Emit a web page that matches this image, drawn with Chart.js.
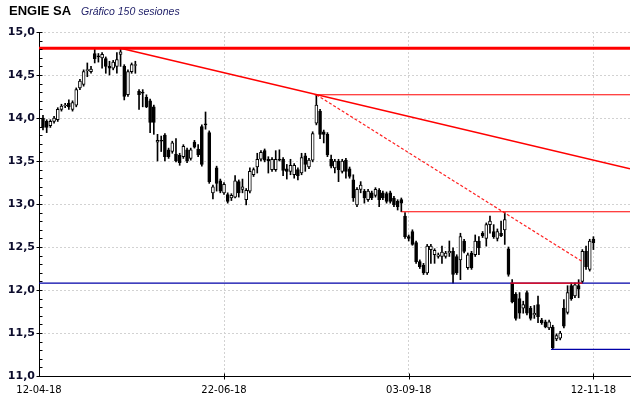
<!DOCTYPE html>
<html>
<head>
<meta charset="utf-8">
<script src="https://cdn.jsdelivr.net/npm/chart.js@4.4.0/dist/chart.umd.min.js"></script>
<style>
  html, body { margin: 0; padding: 0; background: #fff; }
</style>
</head>
<body>
<canvas id="grafico" width="640" height="398"></canvas>
<script>
// datos de las 150 sesiones (apertura, maximo, minimo, cierre)
const aperturas = [
  14.00, 13.96, 13.91, 13.96, 13.98, 14.10, 14.14, 14.17, 14.10, 14.15,
  14.35, 14.39, 14.55, 14.54, 14.75, 14.72, 14.70, 14.69, 14.60, 14.58,
  14.60, 14.74, 14.60, 14.27, 14.54, 14.61, 14.31, 14.30, 14.24, 14.20,
  14.13, 13.72, 13.74, 13.80, 13.63, 13.61, 13.58, 13.57, 13.55, 13.63,
  13.53, 13.72, 13.64, 13.90, 13.93, 13.83, 13.13, 13.42, 13.27, 13.13,
  13.11, 13.07, 13.08, 13.26, 13.17, 13.05, 13.15, 13.34, 13.43, 13.52,
  13.62, 13.52, 13.40, 13.40, 13.52, 13.52, 13.41, 13.38, 13.34, 13.40,
  13.36, 13.56, 13.43, 13.51, 13.94, 14.08, 13.84, 13.81, 13.52, 13.42,
  13.50, 13.38, 13.51, 13.41, 13.28, 12.99, 13.17, 13.15, 13.05, 13.13,
  13.10, 13.16, 13.13, 13.12, 13.13, 13.07, 13.03, 13.05, 12.86, 12.62,
  12.68, 12.55, 12.33, 12.29, 12.20, 12.47, 12.41, 12.39, 12.39, 12.39,
  12.43, 12.45, 12.39, 12.35, 12.57, 12.26, 12.43, 12.41, 12.57, 12.66,
  12.60, 12.76, 12.68, 12.60, 12.66, 12.70, 12.48, 12.08, 11.95, 11.90,
  11.79, 11.97, 11.79, 11.71, 11.83, 11.65, 11.63, 11.56, 11.57, 11.43,
  11.44, 11.79, 11.74, 12.05, 11.93, 12.05, 12.10, 12.45, 12.24, 12.59
];
const maximos = [
  14.03, 13.98, 13.98, 14.02, 14.12, 14.16, 14.17, 14.21, 14.20, 14.35,
  14.45, 14.56, 14.64, 14.60, 14.81, 14.75, 14.76, 14.71, 14.66, 14.67,
  14.76, 14.81, 14.62, 14.56, 14.64, 14.66, 14.33, 14.33, 14.27, 14.22,
  14.15, 13.81, 13.79, 13.82, 13.65, 13.73, 13.76, 13.59, 13.69, 13.65,
  13.65, 13.74, 13.69, 13.92, 14.07, 13.85, 13.22, 13.44, 13.29, 13.25,
  13.13, 13.12, 13.33, 13.28, 13.29, 13.18, 13.42, 13.42, 13.59, 13.62,
  13.64, 13.55, 13.54, 13.62, 13.63, 13.54, 13.46, 13.52, 13.47, 13.42,
  13.59, 13.59, 13.53, 13.84, 14.27, 14.10, 13.86, 13.83, 13.57, 13.52,
  13.52, 13.52, 13.53, 13.43, 13.34, 13.19, 13.26, 13.17, 13.17, 13.15,
  13.19, 13.18, 13.15, 13.14, 13.15, 13.09, 13.05, 13.07, 12.90, 12.64,
  12.70, 12.57, 12.35, 12.31, 12.53, 12.53, 12.48, 12.43, 12.51, 12.45,
  12.57, 12.49, 12.41, 12.66, 12.59, 12.43, 12.45, 12.64, 12.62, 12.68,
  12.78, 12.86, 12.76, 12.71, 12.80, 12.90, 12.50, 12.12, 11.97, 11.97,
  11.87, 11.99, 11.81, 11.82, 11.93, 11.67, 11.65, 11.65, 11.59, 11.49,
  11.52, 11.89, 12.05, 12.08, 12.08, 12.12, 12.47, 12.51, 12.59, 12.62
];
const minimos = [
  13.86, 13.83, 13.89, 13.94, 13.96, 14.08, 14.12, 14.10, 14.08, 14.13,
  14.33, 14.37, 14.48, 14.52, 14.64, 14.65, 14.58, 14.52, 14.50, 14.56,
  14.52, 14.60, 14.21, 14.25, 14.52, 14.52, 14.10, 14.13, 14.12, 13.83,
  13.81, 13.50, 13.61, 13.50, 13.53, 13.59, 13.49, 13.45, 13.53, 13.48,
  13.51, 13.65, 13.55, 13.44, 13.87, 13.24, 13.06, 13.15, 13.13, 13.11,
  13.01, 13.04, 13.07, 13.08, 13.13, 12.99, 13.13, 13.32, 13.36, 13.50,
  13.49, 13.36, 13.38, 13.38, 13.50, 13.33, 13.29, 13.34, 13.30, 13.28,
  13.34, 13.38, 13.41, 13.49, 13.92, 13.76, 13.71, 13.55, 13.42, 13.36,
  13.26, 13.36, 13.30, 13.30, 13.03, 12.97, 13.13, 13.01, 13.03, 13.05,
  13.08, 12.97, 13.05, 13.01, 13.01, 12.97, 12.93, 12.91, 12.60, 12.57,
  12.52, 12.31, 12.25, 12.18, 12.18, 12.31, 12.31, 12.37, 12.31, 12.37,
  12.39, 12.08, 12.18, 12.12, 12.43, 12.24, 12.24, 12.39, 12.41, 12.61,
  12.51, 12.66, 12.60, 12.57, 12.62, 12.53, 12.16, 11.85, 11.65, 11.67,
  11.73, 11.71, 11.65, 11.67, 11.62, 11.60, 11.56, 11.54, 11.31, 11.41,
  11.42, 11.56, 11.72, 11.88, 11.91, 11.91, 12.08, 12.24, 12.22, 12.47
];
const cierres = [
  13.89, 13.89, 13.96, 14.00, 14.10, 14.14, 14.15, 14.13, 14.18, 14.33,
  14.43, 14.54, 14.56, 14.57, 14.69, 14.71, 14.74, 14.60, 14.58, 14.65,
  14.68, 14.77, 14.25, 14.54, 14.62, 14.62, 14.27, 14.29, 14.13, 13.95,
  13.95, 13.74, 13.73, 13.55, 13.55, 13.71, 13.50, 13.48, 13.67, 13.50,
  13.63, 13.66, 13.57, 13.46, 13.92, 13.26, 13.20, 13.24, 13.15, 13.23,
  13.03, 13.10, 13.27, 13.13, 13.20, 13.16, 13.38, 13.40, 13.52, 13.60,
  13.51, 13.50, 13.52, 13.52, 13.51, 13.39, 13.38, 13.45, 13.45, 13.33,
  13.54, 13.46, 13.51, 13.82, 14.15, 13.81, 13.81, 13.57, 13.44, 13.50,
  13.40, 13.50, 13.38, 13.32, 13.07, 13.17, 13.22, 13.07, 13.15, 13.07,
  13.17, 13.05, 13.07, 13.03, 13.03, 12.99, 12.97, 13.01, 12.62, 12.60,
  12.53, 12.33, 12.27, 12.20, 12.51, 12.51, 12.46, 12.41, 12.44, 12.43,
  12.45, 12.18, 12.20, 12.62, 12.45, 12.41, 12.26, 12.57, 12.49, 12.63,
  12.76, 12.80, 12.62, 12.68, 12.63, 12.82, 12.18, 11.86, 11.67, 11.73,
  11.83, 11.73, 11.67, 11.73, 11.69, 11.62, 11.57, 11.63, 11.33, 11.47,
  11.50, 11.58, 11.97, 11.90, 12.06, 12.01, 12.45, 12.27, 12.57, 12.55
];

// fechas del eje x y la sesion donde va cada una
const etiquetasFecha = ['12-04-18', '22-06-18', '03-09-18', '12-11-18'];
const X_MIN = -1.08;
const X_MAX = 158.9;
const sesionesFecha = [X_MIN, 49, 99, 149];

// lineas dibujadas sobre el grafico: [sesion inicio, sesion fin, precio inicio, precio fin, grosor]
const lineasRojas = [
  [X_MIN, X_MAX, 14.81, 14.81, 3],    // maximo
  [21, X_MAX, 14.81, 13.41, 1.5],     // directriz bajista
  [73.5, X_MAX, 14.27, 14.27, 1],
  [97, X_MAX, 12.91, 12.91, 1.2],
  [126.5, 146, 12.08, 12.08, 1.2]
];
const lineasAzules = [
  [X_MIN, X_MAX, 12.08, 12.08],
  [137.5, X_MAX, 11.31, 11.31]
];
const lineaDiscontinua = [74, 146, 14.27, 12.33];

const sesiones = aperturas.map((v, i) => i);

// datasets de velas: mechas y cuerpos
const mechas = sesiones.map(i => ({ x: i, y: [minimos[i], maximos[i]] }));
const cuerpos = sesiones.map(i => ({ x: i, y: [aperturas[i], cierres[i]] }));

const datasets = [];

datasets.push({
  type: 'bar',
  data: mechas,
  backgroundColor: '#000',
  barThickness: 1,
  grouped: false,
  order: 3
});

datasets.push({
  type: 'bar',
  data: cuerpos,
  backgroundColor: cuerpos.map((d, i) => cierres[i] >= aperturas[i] ? '#fff' : '#000'),
  borderColor: '#000',
  borderWidth: 1,
  borderSkipped: false,
  barThickness: 3,
  minBarLength: 1,
  grouped: false,
  order: 2
});

// se crean las lineas a partir de las listas
lineasAzules.forEach(l => {
  datasets.push({
    type: 'line',
    data: [{ x: l[0], y: l[2] }, { x: l[1], y: l[3] }],
    borderColor: '#0000a8',
    borderWidth: 1.2,
    pointRadius: 0,
    order: 1
  });
});

lineasRojas.forEach(l => {
  datasets.push({
    type: 'line',
    data: [{ x: l[0], y: l[2] }, { x: l[1], y: l[3] }],
    borderColor: '#ff0000',
    borderWidth: l[4],
    pointRadius: 0,
    order: 0
  });
});

datasets.push({
  type: 'line',
  data: [{ x: lineaDiscontinua[0], y: lineaDiscontinua[2] }, { x: lineaDiscontinua[1], y: lineaDiscontinua[3] }],
  borderColor: '#ff2020',
  borderWidth: 1.2,
  borderDash: [3, 2],
  pointRadius: 0,
  order: 0
});

// titulo y marcas de los ejes
const extras = {
  id: 'extras',
  afterDraw(chart) {
    const ctx = chart.ctx;
    const ejeY = chart.scales.y;
    const ejeX = chart.scales.x;
    ctx.save();
    ctx.fillStyle = '#000';
    ctx.textBaseline = 'alphabetic';
    ctx.font = 'bold 13px "Liberation Sans", Arial, sans-serif';
    ctx.fillText('ENGIE SA', 9, 15);
    ctx.fillStyle = '#1c1c66';
    ctx.font = 'italic 10.5px "Liberation Sans", Arial, sans-serif';
    ctx.fillText('Gráfico 150 sesiones', 81, 15);

    ctx.strokeStyle = '#000';
    ctx.lineWidth = 1;
    const izq = Math.round(ejeY.right) + 0.5;
    for (let k = 0; k <= 40; k++) {
      const v = 11 + k * 0.1;
      const py = Math.round(ejeY.getPixelForValue(v)) + 0.5;
      const mayor = k % 5 === 0;
      ctx.beginPath();
      ctx.moveTo(mayor ? izq - 3 : izq, py);
      ctx.lineTo(izq + 3, py);
      ctx.stroke();
    }
    const abajo = Math.round(ejeX.top) + 0.5;
    sesionesFecha.slice(1).forEach(s => {
      const px = Math.round(ejeX.getPixelForValue(s)) + 0.5;
      ctx.beginPath();
      ctx.moveTo(px, abajo - 3);
      ctx.lineTo(px, abajo + 3);
      ctx.stroke();
    });
    ctx.restore();
  }
};

const ctx = document.getElementById('grafico').getContext('2d');
new Chart(ctx, {
  data: { datasets: datasets },
  options: {
    responsive: false,
    animation: false,
    devicePixelRatio: 1,
    layout: { padding: { top: 32, right: 10, left: 0, bottom: 0 } },
    plugins: {
      legend: { display: false },
      tooltip: { enabled: false }
    },
    scales: {
      x: {
        type: 'linear',
        offset: false,
        min: X_MIN,
        max: X_MAX,
        afterBuildTicks: s => { s.ticks = sesionesFecha.map(v => ({ value: v })); },
        afterFit: s => { s.height = 22; },
        ticks: {
          callback: (v, i) => etiquetasFecha[i],
          font: { family: 'DejaVu Sans', size: 10 },
          color: '#000',
          maxRotation: 0,
          autoSkip: false,
          padding: 8
        },
        grid: { color: '#d2d2d2', drawTicks: false, offset: false },
        border: { display: true, color: '#000', width: 1, dash: [2, 2] }
      },
      y: {
        min: 11,
        max: 15,
        afterFit: s => { s.width = 39; },
        ticks: {
          stepSize: 0.5,
          callback: v => v.toFixed(1).replace('.', ','),
          font: { family: 'DejaVu Sans', weight: 'bold', size: 11 },
          color: '#0c0c2c',
          padding: 4
        },
        grid: { color: '#d2d2d2', drawTicks: false },
        border: { display: true, color: '#000', width: 1, dash: [2, 2] }
      }
    }
  },
  plugins: [extras]
});
</script>
</body>
</html>
